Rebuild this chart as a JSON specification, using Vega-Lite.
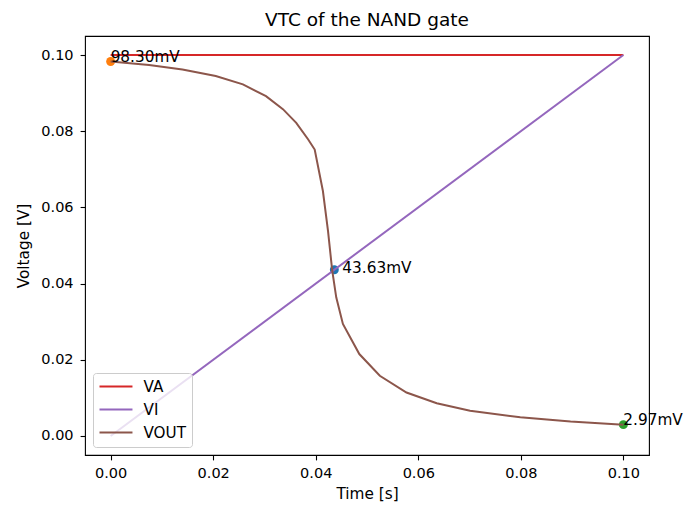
{
  "$schema": "https://vega.github.io/schema/vega-lite/v6.json",
  "autosize": "none",
  "width": 564,
  "height": 419,
  "padding": {"left": 85, "top": 36, "right": 35, "bottom": 51},
  "background": "white",
  "title": {"text": "VTC of the NAND gate", "fontSize": 18.5, "fontWeight": "normal", "font": "DejaVu Sans", "color": "black", "offset": 7},
  "config": {
    "font": "DejaVu Sans",
    "view": {"stroke": "black", "strokeWidth": 1.1},
    "axis": {
      "grid": false, "domain": false, "tickColor": "black", "tickWidth": 1.1, "tickSize": 4.9,
      "labelFontSize": 14.5, "labelColor": "black", "labelPadding": 7, "labelFont": "DejaVu Sans",
      "titleFontSize": 15.3, "titleFontWeight": "normal", "titleColor": "black", "titleFont": "DejaVu Sans"
    }
  },
  "datasets": {
    "lines": [
      {"t": 0, "v": 0.1, "series": "VA"},
      {"t": 0.1, "v": 0.1, "series": "VA"},
      {"t": 0, "v": 0, "series": "VI"},
      {"t": 0.1, "v": 0.1, "series": "VI"},
      {"t": 0, "v": 0.0983, "series": "VOUT"},
      {"t": 0.0075, "v": 0.0974, "series": "VOUT"},
      {"t": 0.014, "v": 0.0962, "series": "VOUT"},
      {"t": 0.0205, "v": 0.0945, "series": "VOUT"},
      {"t": 0.0258, "v": 0.0923, "series": "VOUT"},
      {"t": 0.0303, "v": 0.0892, "series": "VOUT"},
      {"t": 0.0336, "v": 0.0858, "series": "VOUT"},
      {"t": 0.0362, "v": 0.0822, "series": "VOUT"},
      {"t": 0.0385, "v": 0.0779, "series": "VOUT"},
      {"t": 0.0398, "v": 0.0752, "series": "VOUT"},
      {"t": 0.0414, "v": 0.0643, "series": "VOUT"},
      {"t": 0.0424, "v": 0.0538, "series": "VOUT"},
      {"t": 0.0432, "v": 0.0436, "series": "VOUT"},
      {"t": 0.044, "v": 0.0364, "series": "VOUT"},
      {"t": 0.0453, "v": 0.0294, "series": "VOUT"},
      {"t": 0.0485, "v": 0.0215, "series": "VOUT"},
      {"t": 0.0525, "v": 0.0158, "series": "VOUT"},
      {"t": 0.0577, "v": 0.0114, "series": "VOUT"},
      {"t": 0.0636, "v": 0.0086, "series": "VOUT"},
      {"t": 0.0701, "v": 0.0066, "series": "VOUT"},
      {"t": 0.0799, "v": 0.0049, "series": "VOUT"},
      {"t": 0.0897, "v": 0.0038, "series": "VOUT"},
      {"t": 0.1, "v": 0.00297, "series": "VOUT"}
    ],
    "points": [
      {"t": 0.04363, "v": 0.04363, "pt": "VM", "label": "43.63mV"},
      {"t": 0, "v": 0.0983, "pt": "VOH", "label": "98.30mV"},
      {"t": 0.1, "v": 0.00297, "pt": "VOL", "label": "2.97mV"}
    ]
  },
  "layer": [
    {
      "data": {"name": "points"},
      "mark": {"type": "circle", "size": 80, "opacity": 1},
      "encoding": {
        "x": {"field": "t", "type": "quantitative"},
        "y": {"field": "v", "type": "quantitative"},
        "color": {"field": "pt", "type": "nominal", "scale": {"domain": ["VM", "VOH", "VOL"], "range": ["#1f77b4", "#ff7f0e", "#2ca02c"]}, "legend": null}
      }
    },
    {
      "data": {"name": "lines"},
      "mark": {"type": "line", "strokeWidth": 2},
      "encoding": {
        "x": {"field": "t", "type": "quantitative", "title": "Time [s]", "scale": {"domain": [-0.005, 0.105], "nice": false, "zero": false}, "axis": {"values": [0, 0.02, 0.04, 0.06, 0.08, 0.1], "format": ".2f", "titlePadding": 6}},
        "y": {"field": "v", "type": "quantitative", "title": "Voltage [V]", "scale": {"domain": [-0.005, 0.105], "nice": false, "zero": false}, "axis": {"values": [0, 0.02, 0.04, 0.06, 0.08, 0.1], "format": ".2f", "titlePadding": 9}},
        "color": {
          "field": "series", "type": "nominal",
          "scale": {"domain": ["VA", "VI", "VOUT"], "range": ["#d62728", "#9467bd", "#8c564b"]},
          "legend": {
            "title": null, "orient": "bottom-left", "offset": 8,
            "symbolType": "M-1,0H3.71", "symbolSize": 196, "symbolStrokeWidth": 2,
            "labelFontSize": 15.2, "labelColor": "black", "labelFont": "DejaVu Sans", "labelOffset": 29,
            "rowPadding": 6, "padding": 5.5,
            "fillColor": "rgba(255,255,255,0.8)", "strokeColor": "#cccccc", "cornerRadius": 3
          }
        },
        "order": {"field": "t", "type": "quantitative"}
      }
    },
    {
      "data": {"name": "points"},
      "transform": [{"filter": "datum.pt != 'VM'"}],
      "mark": {"type": "text", "align": "left", "baseline": "alphabetic", "fontSize": 15.3, "font": "DejaVu Sans", "color": "black"},
      "encoding": {
        "x": {"field": "t", "type": "quantitative"},
        "y": {"field": "v", "type": "quantitative"},
        "text": {"field": "label"}
      }
    },
    {
      "data": {"name": "points"},
      "transform": [{"filter": "datum.pt == 'VM'"}],
      "mark": {"type": "text", "align": "left", "baseline": "alphabetic", "dx": 8, "dy": 3, "fontSize": 15.3, "font": "DejaVu Sans", "color": "black"},
      "encoding": {
        "x": {"field": "t", "type": "quantitative"},
        "y": {"field": "v", "type": "quantitative"},
        "text": {"field": "label"}
      }
    }
  ],
  "resolve": {"scale": {"color": "independent"}}
}
